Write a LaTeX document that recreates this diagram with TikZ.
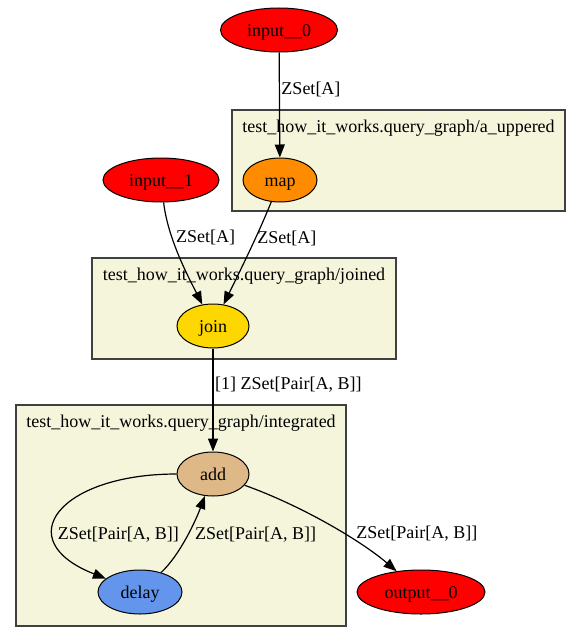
\documentclass[tikz,border=0pt]{standalone}
\usepackage{fontspec}
\setmainfont{Liberation Serif}
\usetikzlibrary{
  shapes.geometric,
  arrows.meta,
  positioning
}
\definecolor{clusterbg}{HTML}{F5F5DC}
\definecolor{gvred}{HTML}{FF0000}
\definecolor{gvorange}{HTML}{FF8C00}
\definecolor{gvgold}{HTML}{FFD700}
\definecolor{gvwood}{HTML}{DEB887}
\definecolor{gvblue}{HTML}{6495ED}
\tikzset{
  ->,
  >={Triangle[length=13pt,width=10pt]},
  every node/.style={font=\fontsize{18}{21}\selectfont},
  op/.style={ellipse, draw, line width=1pt, inner sep=0pt, minimum height=44pt,
    text height=13pt, text depth=0pt},
  cluster/.style={draw=black!75, line width=1.8pt, fill=clusterbg, inner sep=0pt},
  clabel/.style={inner sep=0pt},
  lbl/.style={anchor=west, inner sep=1.5pt}
}
\begin{document}
\begin{tikzpicture}[x=1pt, y=-1pt, line width=1.2pt]
    \useasboundingbox (0,0) rectangle (581,642);
    % clusters
    \node[cluster, minimum width=333pt, minimum height=101pt] (upper) at (398.5,160.5) {};
    \node[clabel, below=10.5pt of upper.north] (upperlbl) {test\_how\_it\_works.query\_graph/a\_uppered};
    \node[cluster, minimum width=304pt, minimum height=101pt] (joined) at (244,308.5) {};
    \node[clabel, below=10.5pt of joined.north] (joinedlbl) {test\_how\_it\_works.query\_graph/joined};
    \node[cluster, minimum width=330pt, minimum height=221pt] (integ) at (181,515.5) {};
    \node[clabel, below=10.5pt of integ.north] (integlbl) {test\_how\_it\_works.query\_graph/integrated};
    % operators
    \node[op, fill=gvred, minimum width=117pt] (in0) at (279,30) {input\_\_0};
    \node[op, fill=gvorange, minimum width=74pt] (map) at (280,180) {map};
    \node[op, fill=gvred, minimum width=116pt] (in1) at (161,180) {input\_\_1};
    \node[op, fill=gvgold, minimum width=72pt] (join) at (213,326) {join};
    \node[op, fill=gvwood, minimum width=72pt] (add) at (213,474) {add};
    \node[op, fill=gvblue, minimum width=84pt] (delay) at (140,592) {delay};
    \node[op, fill=gvred, minimum width=128pt] (out0) at (421,592) {output\_\_0};
    % streams
    \draw (in0) edge node[lbl, pos=.35] {ZSet[A]} (map);
    \draw (in1) .. controls (168,240) and (190,280) .. node[lbl, pos=.31, xshift=2pt] {ZSet[A]} (join);
    \draw (map) .. controls (258,235) and (238,275) .. node[lbl, pos=.35] {ZSet[A]} (join);
    \draw (join) edge node[lbl, pos=.35] {[1] ZSet[Pair[A, B]]} (add);
    \draw (add) .. controls (60,474) and (8,540) .. node[lbl, pos=.67, xshift=1pt] {ZSet[Pair[A, B]]} (delay);
    \draw (delay) .. controls (180,555) and (196,520) .. node[lbl, pos=.53, xshift=5pt] {ZSet[Pair[A, B]]} (add);
    \draw (add) .. controls (300,505) and (360,540) .. node[lbl, pos=.6, xshift=11pt] {ZSet[Pair[A, B]]} (out0);
\end{tikzpicture}
\end{document}
